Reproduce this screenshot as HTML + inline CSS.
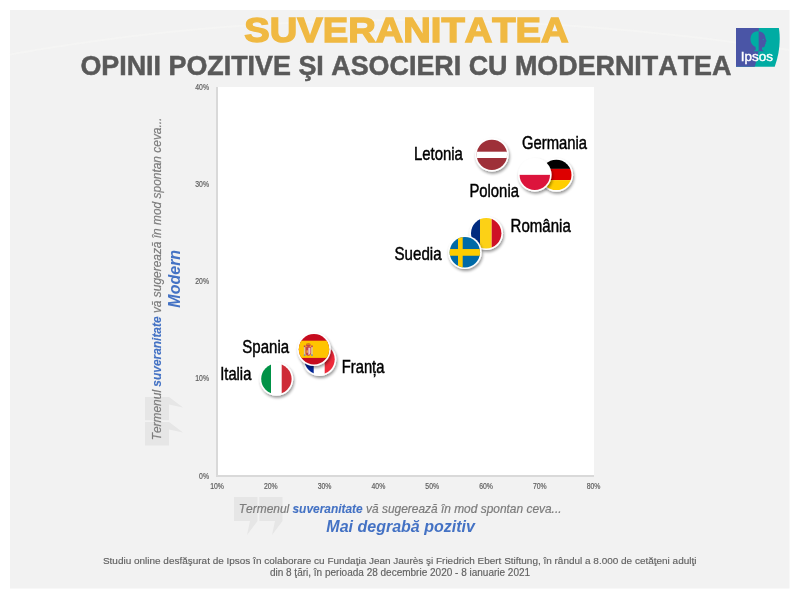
<!DOCTYPE html>
<html><head><meta charset="utf-8">
<style>
html,body{margin:0;padding:0;background:#fff;}
body{width:800px;height:599px;overflow:hidden;position:relative;}
svg{position:absolute;left:0;top:0;display:block;opacity:0.999;}
text{font-family:"Liberation Sans",sans-serif;font-kerning:none;}
</style></head><body>
<svg width="800" height="599" viewBox="0 0 800 599">
<defs>
  <filter id="sh" x="-30%" y="-30%" width="160%" height="160%">
    <feGaussianBlur in="SourceAlpha" stdDeviation="1.4"/>
    <feOffset dx="1.4" dy="1.6" result="o"/>
    <feComponentTransfer><feFuncA type="linear" slope="0.42"/></feComponentTransfer>
    <feMerge><feMergeNode/><feMergeNode in="SourceGraphic"/></feMerge>
  </filter>
  <clipPath id="c15"><circle cx="0" cy="0" r="15.2"/></clipPath>
</defs>
<!-- panel -->
<rect x="10" y="10" width="779.5" height="578.5" fill="#f2f2f2"/>
<path d="M10,54.5 Q380,-12 789,50" fill="none" stroke="#f8f8f6" stroke-width="2" opacity="0.45"/>

<!-- titles -->
<text transform="translate(244.3,41.5) scale(1.103,1)" font-size="34.6" font-weight="bold" fill="#f0b942" stroke="#f0b942" stroke-width="1.4">SUVERANITATEA</text>
<text x="80.4" y="75.3" font-size="26.88" font-weight="bold" fill="#595959" stroke="#595959" stroke-width="0.5">OPINII POZITIVE ŞI ASOCIERI CU MODERNITATEA</text>

<!-- logo -->
<g id="logo">
  <clipPath id="lb"><path d="M736,27.9 L758.8,27.9 L758.8,50 Q757.5,59 754.7,66.7 L736,66.7 Z"/></clipPath>
  <clipPath id="lt"><path d="M758.8,20 L790,20 L790,70 L754.7,70 L754.7,66.7 Q757.5,59 758.8,50 Z"/></clipPath>
  <path d="M736,27.9 L778.9,27.9 Q781.8,47 774.7,66.7 L736,66.7 Z" fill="#00aca3"/>
  <path d="M736,27.9 L758.8,27.9 L758.8,50 Q757.5,59 754.7,66.7 L736,66.7 Z" fill="#4a55a6"/>
  <path d="M758,31.3 C752.5,31.3 750.5,35.5 750.5,39.5 C750.5,43 752.5,45.5 755.5,47 L755.8,49.8 C755,50.6 754,51 753,51.3 L766,51.3 C764,51 762.5,50.5 762,49.5 L762,47.5 C763.5,47.5 764.8,47 764.9,45.5 L765.2,44 L766,43.3 L765.4,42.5 L766.6,41.3 L765.6,38.5 C765,33.5 762,31.3 758,31.3 Z" fill="#00aca3" clip-path="url(#lb)"/>
  <path d="M758,31.3 C752.5,31.3 750.5,35.5 750.5,39.5 C750.5,43 752.5,45.5 755.5,47 L755.8,49.8 C755,50.6 754,51 753,51.3 L766,51.3 C764,51 762.5,50.5 762,49.5 L762,47.5 C763.5,47.5 764.8,47 764.9,45.5 L765.2,44 L766,43.3 L765.4,42.5 L766.6,41.3 L765.6,38.5 C765,33.5 762,31.3 758,31.3 Z" fill="#4a55a6" clip-path="url(#lt)"/>
  <circle cx="763.3" cy="39.6" r="0.6" fill="#00aca3"/>
  <text x="740.8" y="60.6" font-size="12.6" fill="#fff" stroke="#fff" stroke-width="0.4" transform="translate(740.8,60.6) scale(1.07,1) translate(-740.8,-60.6)">Ipsos</text>
</g>

<!-- plot -->
<rect x="218" y="87" width="376" height="388" fill="#fff"/>
<rect x="216" y="87" width="2" height="390" fill="#d9d9d9"/>
<rect x="216" y="475" width="378" height="2" fill="#d9d9d9"/>

<!-- y tick labels -->
<g font-size="8.6" fill="#5e5e5e" stroke="#5e5e5e" stroke-width="0.2" text-anchor="end">
  <text transform="translate(209,89.5) scale(0.8,1)">40%</text>
  <text transform="translate(209,186.8) scale(0.8,1)">30%</text>
  <text transform="translate(209,284.1) scale(0.8,1)">20%</text>
  <text transform="translate(209,381.4) scale(0.8,1)">10%</text>
  <text transform="translate(209,478.7) scale(0.8,1)">0%</text>
</g>
<g font-size="8.6" fill="#5e5e5e" stroke="#5e5e5e" stroke-width="0.2" text-anchor="middle">
  <text transform="translate(217,489.2) scale(0.8,1)">10%</text>
  <text transform="translate(270.8,489.2) scale(0.8,1)">20%</text>
  <text transform="translate(324.6,489.2) scale(0.8,1)">30%</text>
  <text transform="translate(378.4,489.2) scale(0.8,1)">40%</text>
  <text transform="translate(432.2,489.2) scale(0.8,1)">50%</text>
  <text transform="translate(486,489.2) scale(0.8,1)">60%</text>
  <text transform="translate(539.8,489.2) scale(0.8,1)">70%</text>
  <text transform="translate(593.6,489.2) scale(0.8,1)">80%</text>
</g>

<!-- quote marks -->
<g id="q" fill="#e6e6e6">
  <path d="M234,497 H257.5 V521 L247,535 L250,521 H234 Z"/>
  <path d="M259.2,497 H282.5 V521 L272,535 L275,521 H259.2 Z"/>
</g>
<use href="#q" transform="translate(145,445.5) rotate(-90) translate(-234,-497)"/>

<!-- bottom axis title -->
<text x="400.2" y="513" font-size="11.93" text-anchor="middle" font-style="italic" fill="#7c7c7c" stroke="#7c7c7c" stroke-width="0.2">Termenul <tspan font-weight="bold" fill="#4472c4" stroke="#4472c4" stroke-width="0.1">suveranitate</tspan> vă sugerează în mod spontan ceva...</text>
<text x="400.6" y="531.9" font-size="16" text-anchor="middle" font-style="italic" font-weight="bold" fill="#4472c4">Mai degrabă pozitiv</text>

<!-- left axis title -->
<g transform="translate(161.4,278.95) rotate(-90)">
  <text x="0" y="0" font-size="11.93" text-anchor="middle" font-style="italic" fill="#7c7c7c" stroke="#7c7c7c" stroke-width="0.2">Termenul <tspan font-weight="bold" fill="#4472c4" stroke="#4472c4" stroke-width="0.1">suveranitate</tspan> vă sugerează în mod spontan ceva...</text>
</g>
<g transform="translate(180.1,278.75) rotate(-90)">
  <text x="0" y="0" font-size="16" text-anchor="middle" font-style="italic" font-weight="bold" fill="#4472c4">Modern</text>
</g>

<!-- footer -->
<g font-size="10" fill="#626262" stroke="#626262" stroke-width="0.15" text-anchor="middle">
  <text x="399.7" y="563.5" font-size="9.98">Studiu online desfăşurat de Ipsos în colaborare cu Fundaţia Jean Jaurès şi Friedrich Ebert Stiftung, în rândul a 8.000 de cetăţeni adulţi</text>
  <text x="400" y="575.5">din 8 ţări, în perioada 28 decembrie 2020 - 8 ianuarie 2021</text>
</g>

<!-- flags -->
<!-- Latvia -->
<g transform="translate(491.9,154.85)">
  <circle r="16.8" fill="#fff" filter="url(#sh)"/>
  <g clip-path="url(#c15)">
    <rect x="-16" y="-16" width="32" height="32" fill="#9e3039"/>
    <rect x="-16" y="-3.15" width="32" height="6.3" fill="#fff"/>
  </g>
</g>
<!-- Germany -->
<g transform="translate(556.3,174.9)">
  <circle r="16.8" fill="#fff" filter="url(#sh)"/>
  <g clip-path="url(#c15)">
    <rect x="-16" y="-16" width="32" height="10" fill="#000"/>
    <rect x="-16" y="-6" width="32" height="11.2" fill="#dd0000"/>
    <rect x="-16" y="5.2" width="32" height="11" fill="#ffce00"/>
  </g>
</g>
<!-- Poland -->
<g transform="translate(534.8,174.85)">
  <circle r="16.8" fill="#fff" filter="url(#sh)"/>
  <g clip-path="url(#c15)">
    <rect x="-16" y="0" width="32" height="16" fill="#dc143c"/>
  </g>
</g>
<!-- Romania -->
<g transform="translate(486.2,233.3)">
  <circle r="16.8" fill="#fff" filter="url(#sh)"/>
  <g clip-path="url(#c15)">
    <rect x="-16" y="-16" width="9.8" height="32" fill="#002b7f"/>
    <rect x="-6.2" y="-16" width="11.7" height="32" fill="#fcd116"/>
    <rect x="5.5" y="-16" width="11" height="32" fill="#ce1126"/>
  </g>
</g>
<!-- Sweden -->
<g transform="translate(464.85,252.2)">
  <circle r="16.8" fill="#fff" filter="url(#sh)"/>
  <g clip-path="url(#c15)">
    <rect x="-16" y="-16" width="32" height="32" fill="#006aa7"/>
    <rect x="-6.85" y="-16" width="4.7" height="32" fill="#fecc00"/>
    <rect x="-16" y="-3.15" width="32" height="6.7" fill="#fecc00"/>
  </g>
</g>
<!-- France -->
<g transform="translate(319.5,359.3)">
  <circle r="16.8" fill="#fff" filter="url(#sh)"/>
  <g clip-path="url(#c15)">
    <rect x="-16" y="-16" width="10.2" height="32" fill="#002395"/>
    <rect x="5.2" y="-16" width="12" height="32" fill="#ed2939"/>
  </g>
</g>
<!-- Spain -->
<g transform="translate(314,349.3)">
  <circle r="16.8" fill="#fff" filter="url(#sh)"/>
  <g clip-path="url(#c15)">
    <rect x="-16" y="-16" width="32" height="32" fill="#c60b1e"/>
    <rect x="-16" y="-8.6" width="32" height="17.2" fill="#ffc400"/>
    <g transform="translate(-5.7,0)">
      <rect x="-4.4" y="-3.2" width="1.5" height="9.6" fill="#d9c8a8"/>
      <rect x="2.9" y="-3.2" width="1.5" height="9.6" fill="#d9c8a8"/>
      <rect x="-4.5" y="-3.8" width="1.7" height="1.6" fill="#c8414b"/>
      <rect x="2.8" y="-3.8" width="1.7" height="1.6" fill="#c8414b"/>
      <rect x="-4.5" y="5.2" width="1.7" height="1.2" fill="#5a7fb5"/>
      <rect x="2.8" y="5.2" width="1.7" height="1.2" fill="#5a7fb5"/>
      <ellipse cx="0" cy="-4.2" rx="2.4" ry="1.9" fill="#c8414b"/>
      <rect x="-2" y="-5.6" width="4" height="1" fill="#e0a000"/>
      <path d="M-2.8,-2.3 H2.8 V3.5 Q2.8,6.2 0,6.4 Q-2.8,6.2 -2.8,3.5 Z" fill="#c8414b"/>
      <path d="M0,-1.6 H2.1 V3.4 Q2.1,5.4 0,5.6 Z" fill="#e6c8d6"/>
      <rect x="-1.8" y="1" width="1.5" height="2.5" fill="#e8b040"/>
    </g>
  </g>
</g>
<!-- Italy -->
<g transform="translate(276.4,379)">
  <circle r="16.8" fill="#fff" filter="url(#sh)"/>
  <g clip-path="url(#c15)">
    <rect x="-16" y="-16" width="10.6" height="32" fill="#009246"/>
    <rect x="5.3" y="-16" width="11" height="32" fill="#ce2b37"/>
  </g>
</g>

<!-- country labels -->
<g font-size="18" fill="#000" stroke="#000" stroke-width="0.45">
  <text transform="translate(413.9,160.2) scale(0.83,1)">Letonia</text>
  <text transform="translate(521.9,149) scale(0.825,1)">Germania</text>
  <text transform="translate(469.4,196.8) scale(0.825,1)">Polonia</text>
  <text transform="translate(510.6,231.8) scale(0.835,1)">România</text>
  <text transform="translate(394.5,259.5) scale(0.84,1)">Suedia</text>
  <text transform="translate(242.3,352.5) scale(0.835,1)">Spania</text>
  <text transform="translate(341.8,373.4) scale(0.82,1)">Franța</text>
  <text transform="translate(220.2,380.3) scale(0.82,1)">Italia</text>
</g>
</svg>
</body></html>
